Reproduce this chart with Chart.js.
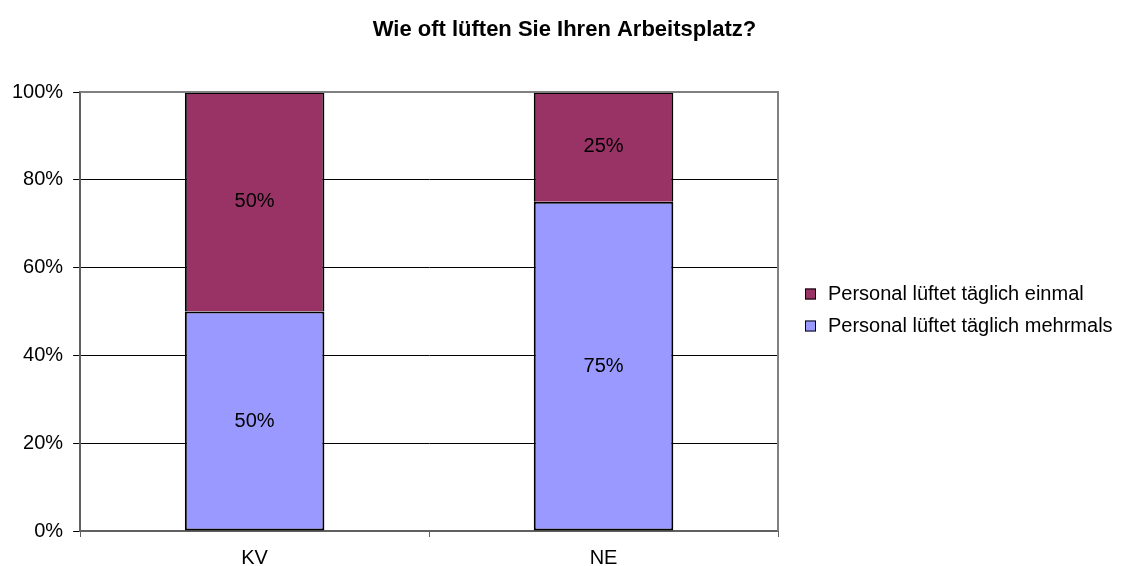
<!DOCTYPE html>
<html>
<head>
<meta charset="utf-8">
<script src="https://cdn.jsdelivr.net/npm/chart.js@4/dist/chart.umd.min.js"></script>
<style>
  html, body { margin: 0; padding: 0; background: #fff; }
  #wrap { width: 1129px; height: 566px; }
</style>
</head>
<body>
<div id="wrap"><canvas id="chart"></canvas></div>
<script>
// values (percent of respondents)
const categories = ['KV', 'NE'];
const mehrmals = [50, 75];
const einmal = [50, 25];
const yTicks = [0, 20, 40, 60, 80, 100];
const titleText = 'Wie oft lüften Sie Ihren Arbeitsplatz?';

const FONT = '"Liberation Sans", Arial, sans-serif';

// writes the percentage into the middle of each bar segment
const segmentLabels = {
    id: 'segmentLabels',
    afterDatasetsDraw(chart) {
        const { ctx } = chart;
        ctx.save();
        ctx.font = `20px ${FONT}`;
        ctx.fillStyle = '#000';
        ctx.textAlign = 'center';
        ctx.textBaseline = 'middle';
        chart.data.datasets.forEach((ds, i) => {
            chart.getDatasetMeta(i).data.forEach((bar, j) => {
                const p = bar.getCenterPoint();
                ctx.fillText(`${ds.data[j]}%`, p.x, p.y);
            });
        });
        ctx.restore();
    },
};

// gray frame on top/right of the plot area (Excel style)
const plotFrame = {
    id: 'plotFrame',
    afterDraw(chart) {
        const { ctx, chartArea: a } = chart;
        ctx.save();
        ctx.strokeStyle = '#808080';
        ctx.lineWidth = 2;
        ctx.beginPath();
        ctx.moveTo(a.left, a.top);
        ctx.lineTo(a.right, a.top);
        ctx.lineTo(a.right, a.bottom);
        ctx.stroke();
        ctx.restore();
    },
};

// title centred on the whole canvas, legend to the right of the plot.
// done by hand because the built-in ones can't sit where Excel put them
const titleAndLegend = {
    id: 'titleAndLegend',
    afterDraw(chart) {
        const { ctx, chartArea: a, width } = chart;
        ctx.save();
        ctx.fillStyle = '#000';
        ctx.textBaseline = 'middle';

        ctx.font = `bold 22px ${FONT}`;
        ctx.textAlign = 'center';
        ctx.fillText(titleText, width / 2, 30);

        ctx.font = `20px ${FONT}`;
        ctx.textAlign = 'left';
        const items = chart.data.datasets.slice().reverse();
        const midY = (a.top + a.bottom) / 2 - 2;
        const step = 32;
        items.forEach((ds, i) => {
            const y = midY + (i - (items.length - 1) / 2) * step;
            const x = a.right + 27;
            ctx.fillStyle = ds.backgroundColor;
            ctx.fillRect(x, y - 5, 11, 11);
            ctx.strokeStyle = '#000';
            ctx.lineWidth = 1;
            ctx.strokeRect(x + 0.5, y - 4.5, 10, 10);
            ctx.fillStyle = '#000';
            ctx.fillText(ds.label, x + 23, y + 1);
        });
        ctx.restore();
    },
};

new Chart(document.getElementById('chart'), {
    type: 'bar',
    data: {
        labels: categories,
        datasets: [
            {
                label: 'Personal lüftet täglich mehrmals',
                data: mehrmals,
                backgroundColor: '#9999FF',
                borderColor: '#000',
                borderWidth: 2,
                borderSkipped: false,
            },
            {
                label: 'Personal lüftet täglich einmal',
                data: einmal,
                backgroundColor: '#993366',
                borderColor: '#000',
                borderWidth: 2,
                borderSkipped: 'bottom',
            },
        ],
    },
    options: {
        responsive: true,
        maintainAspectRatio: false,
        animation: false,
        layout: { padding: { left: 2, right: 351, top: 92, bottom: -13 } },
        datasets: { bar: { categoryPercentage: 1, barPercentage: 0.4 } },
        plugins: {
            title: { display: false },
            legend: { display: false },
            tooltip: { enabled: false },
        },
        scales: {
            x: {
                stacked: true,
                grid: {
                    offset: true,
                    drawOnChartArea: false,
                    color: '#606060',
                    tickLength: 6,
                },
                border: { color: '#606060', width: 2 },
                ticks: {
                    color: '#000',
                    font: { family: FONT, size: 20, lineHeight: 1 },
                    padding: 11,
                },
            },
            y: {
                stacked: true,
                min: 0,
                max: 100,
                afterBuildTicks(axis) {
                    axis.ticks = yTicks.map((v) => ({ value: v }));
                },
                grid: { color: '#000', tickLength: 7 },
                border: { color: '#606060', width: 2 },
                ticks: {
                    color: '#000',
                    font: { family: FONT, size: 20 },
                    padding: 10,
                    callback: (v) => `${v}%`,
                },
            },
        },
    },
    plugins: [segmentLabels, plotFrame, titleAndLegend],
});
</script>
</body>
</html>
